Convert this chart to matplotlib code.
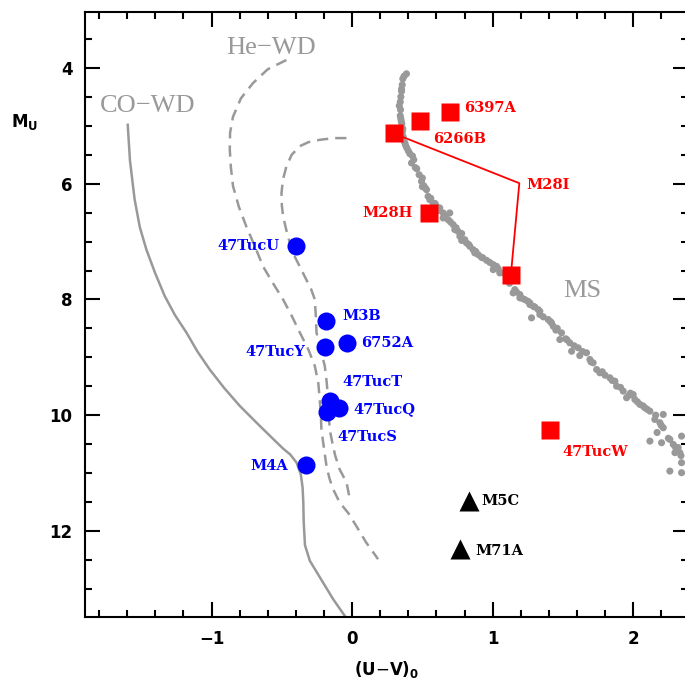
import numpy as np
import matplotlib.pyplot as plt
from matplotlib.ticker import MultipleLocator

# cooling tracks
co_x = [-1.596, -1.58, -1.547, -1.51, -1.463, -1.40, -1.333, -1.26, -1.179, -1.10,
        -1.013, -0.91, -0.799, -0.68, -0.562, -0.49, -0.440, -0.395, -0.365, -0.352,
        -0.347, -0.344, -0.335, -0.300, -0.21, -0.135, -0.052]
co_y = [4.98, 5.60, 6.27, 6.75, 7.14, 7.55, 7.94, 8.27, 8.57, 8.90,
        9.21, 9.53, 9.84, 10.13, 10.41, 10.58, 10.68, 10.82, 11.02, 11.25,
        11.50, 11.85, 12.25, 12.52, 12.88, 13.18, 13.47]

he1_x = [-0.467, -0.60, -0.705, -0.79, -0.847, -0.868, -0.870, -0.862, -0.847, -0.805,
         -0.752, -0.69, -0.633, -0.56, -0.491, -0.43, -0.372, -0.31, -0.265, -0.240,
         -0.230, -0.222, -0.218, -0.20, -0.182, -0.16, -0.135, -0.088, -0.028, 0.031,
         0.100, 0.185]
he1_y = [3.86, 4.02, 4.26, 4.52, 4.84, 5.12, 5.41, 5.72, 6.04, 6.40,
         6.74, 7.09, 7.43, 7.73, 8.00, 8.28, 8.57, 8.87, 9.15, 9.45,
         9.73, 10.00, 10.25, 10.57, 10.88, 11.10, 11.28, 11.51, 11.69, 11.92,
         12.20, 12.49]

he2_x = [-0.04, -0.13, -0.23, -0.31, -0.372, -0.43, -0.467, -0.492, -0.502, -0.500,
         -0.491, -0.46, -0.420, -0.37, -0.325, -0.29, -0.265, -0.258, -0.253, -0.225,
         -0.194, -0.180, -0.171, -0.165, -0.159, -0.14, -0.12, -0.088, -0.04, -0.02]
he2_y = [5.21, 5.21, 5.24, 5.28, 5.35, 5.50, 5.70, 5.93, 6.16, 6.36,
         6.56, 6.88, 7.20, 7.44, 7.66, 7.83, 8.00, 8.28, 8.57, 8.86,
         9.15, 9.44, 9.73, 10.00, 10.25, 10.48, 10.70, 10.94, 11.16, 11.40]

# main sequence stars
ms_x = [0.387, 0.361, 0.357, 0.347, 0.343, 0.336, 0.343, 0.347, 0.354, 0.361,
        0.364, 0.375, 0.389, 0.411, 0.439, 0.423, 0.477, 0.494, 0.510, 0.530,
        0.541, 0.553, 0.577, 0.601, 0.624, 0.648, 0.695, 0.648, 0.683, 0.719,
        0.731, 0.754, 0.767, 0.802, 0.814, 0.838, 0.861, 0.873, 0.897, 0.957,
        1.004, 1.004, 1.028, 1.051, 1.075, 1.158, 1.146, 1.194, 1.194, 1.229,
        1.265, 1.265, 1.324, 1.336, 1.336, 1.277, 1.395, 1.419, 1.431, 1.490,
        1.478, 1.549, 1.562, 1.609, 1.668, 1.692, 1.715, 1.740, 1.763, 1.834,
        1.870, 1.882, 1.929, 1.953, 2.000, 2.012, 2.048, 2.083, 2.119, 2.154,
        2.214, 2.190, 2.214, 2.119, 2.202, 2.261, 2.285, 2.344, 2.332, 2.297,
        2.344, 2.261, 2.344, 0.352, 0.45, 0.60, 0.92, 1.10, 1.30, 1.45,
        1.62, 1.80, 1.98, 2.17, 2.32, 0.50, 0.78, 1.21, 1.52, 2.07,
        0.37, 0.352, 0.345, 0.350, 0.358, 0.38, 0.40, 0.43, 0.46, 0.50,
        0.52, 0.56, 0.59, 0.62, 0.66, 0.70, 0.74, 0.78, 0.83, 0.88,
        0.93, 0.98, 1.04, 1.12, 1.17, 1.25, 1.29, 1.36, 1.41, 1.46,
        1.53, 1.58, 1.64, 1.70, 1.78, 1.85, 1.91, 1.97, 2.03, 2.10,
        2.16, 2.20, 2.25, 2.30, 2.34]
ms_y = [4.098, 4.185, 4.288, 4.496, 4.583, 4.651, 4.824, 4.876, 4.962, 5.048,
        5.187, 5.290, 5.377, 5.480, 5.584, 5.641, 5.843, 5.959, 6.033, 6.102,
        6.218, 6.275, 6.332, 6.390, 6.418, 6.504, 6.504, 6.591, 6.620, 6.706,
        6.793, 6.822, 6.908, 6.966, 7.022, 7.081, 7.138, 7.195, 7.225, 7.323,
        7.397, 7.484, 7.427, 7.541, 7.541, 7.829, 7.886, 7.915, 7.972, 8.002,
        8.059, 8.088, 8.175, 8.204, 8.261, 8.318, 8.347, 8.404, 8.463, 8.577,
        8.693, 8.750, 8.895, 8.836, 8.922, 9.038, 9.095, 9.211, 9.268, 9.354,
        9.413, 9.499, 9.585, 9.699, 9.643, 9.729, 9.815, 9.872, 9.931, 10.074,
        9.988, 10.131, 10.218, 10.449, 10.477, 10.420, 10.506, 10.363, 10.649, 10.649,
        10.822, 10.967, 10.995, 4.40, 5.72, 6.46, 7.27, 7.64, 8.13, 8.53,
        8.97, 9.31, 9.62, 10.30, 10.56, 6.05, 6.98, 7.98, 8.68, 9.84,
        4.14, 4.36, 4.72, 4.92, 5.10, 5.33, 5.43, 5.52, 5.74, 5.90,
        6.07, 6.25, 6.34, 6.46, 6.56, 6.66, 6.76, 6.86, 7.05, 7.17,
        7.28, 7.36, 7.47, 7.72, 7.87, 8.03, 8.12, 8.30, 8.38, 8.50,
        8.70, 8.80, 8.90, 9.08, 9.25, 9.40, 9.52, 9.66, 9.77, 9.90,
        10.00, 10.18, 10.40, 10.55, 10.70]

# companions: He-WD (blue), MS-like (red), others (black)
blue_names = ['47TucU', 'M3B', '47TucY', '6752A', '47TucT', '47TucQ', '47TucS', 'M4A']
blue_x = [-0.40, -0.187, -0.194, -0.036, -0.16, -0.09, -0.18, -0.325]
blue_y = [7.07, 8.38, 8.83, 8.75, 9.76, 9.87, 9.95, 10.86]

red_names = ['6397A', '6266B', '', 'M28H', '', '47TucW']
red_x = [0.70, 0.48, 0.297, 0.548, 1.13, 1.41]
red_y = [4.76, 4.91, 5.13, 6.50, 7.57, 10.26]

m28i_x = [0.297, 1.19, 1.13]
m28i_y = [5.13, 5.99, 7.57]

black_names = ['M5C', 'M71A']
black_x = [0.833, 0.767]
black_y = [11.48, 12.32]

# label offsets (points)
blue_off = [(-12, 0), (12, 4), (-14, -3), (10, 0), (9, 14), (10, -1), (8, -18), (-13, -1)]
red_off = [(10, 3), (10, -13), None, (-12, 0), None, (9, -16)]
black_off = [(9, 0), (11, -1)]

gray = '#999999'
fig = plt.figure(figsize=(6.85, 6.84), dpi=100)
ax = fig.add_axes([85 / 685, 1 - 617 / 684, 603 / 685, 605 / 684])

ax.plot(co_x, co_y, color=gray, lw=1.8)
ax.plot(he1_x, he1_y, color=gray, lw=1.8, dashes=(4.5, 2.8))
ax.plot(he2_x, he2_y, color=gray, lw=1.8, dashes=(4.5, 2.8))
ax.scatter(ms_x, ms_y, s=26, color=gray, edgecolors='none', zorder=2)

ax.plot(m28i_x, m28i_y, color='red', lw=1.3, zorder=3)
ax.plot(blue_x, blue_y, 'o', color='blue', ms=13, mec='none', zorder=4)
ax.plot(red_x, red_y, 's', color='red', ms=13, mec='none', zorder=4)
ax.plot(black_x, black_y, '^', color='black', ms=14, mec='none', zorder=4)

lab = dict(fontfamily='DejaVu Serif', fontweight='bold', fontsize=10.5,
           va='center', textcoords='offset points')
for n, x, y, o in zip(blue_names, blue_x, blue_y, blue_off):
    ax.annotate(n, (x, y), xytext=o, color='blue', ha='right' if o[0] < 0 else 'left', **lab)
for n, x, y, o in zip(red_names, red_x, red_y, red_off):
    if n:
        ax.annotate(n, (x, y), xytext=o, color='red', ha='right' if o[0] < 0 else 'left', **lab)
ax.annotate('M28I', (m28i_x[1], m28i_y[1]), xytext=(5, -1), color='red', ha='left', **lab)
for n, x, y, o in zip(black_names, black_x, black_y, black_off):
    ax.annotate(n, (x, y), xytext=o, color='black', ha='left', **lab)

ax.text(-1.796, 4.65, 'CO\u2212WD', color=gray, fontfamily='Liberation Serif', fontsize=19, va='center')
ax.text(-0.892, 3.65, 'He\u2212WD', color=gray, fontfamily='Liberation Serif', fontsize=19, va='center')
ax.text(1.50, 7.86, 'MS', color=gray, fontfamily='Liberation Serif', fontsize=19, va='center')

ax.set_xlim(-1.90, 2.39)
ax.set_ylim(13.49, 3.03)
ax.xaxis.set_major_locator(MultipleLocator(1))
ax.xaxis.set_minor_locator(MultipleLocator(0.2))
ax.yaxis.set_major_locator(MultipleLocator(2))
ax.yaxis.set_minor_locator(MultipleLocator(0.5))
ax.tick_params(which='both', direction='in', top=True, right=True, width=1.5)
ax.tick_params(which='major', length=11, pad=9, labelsize=12)
ax.tick_params(which='minor', length=5)
for t in ax.get_xticklabels() + ax.get_yticklabels():
    t.set_fontweight('bold')
for s in ax.spines.values():
    s.set_linewidth(1.5)

ax.set_xlabel(r'(U$-$V)$_\mathbf{0}$', fontsize=12, fontweight='bold', labelpad=8)
fig.text(25 / 685, 1 - 122 / 684, r'M$_\mathbf{U}$', fontsize=12, fontweight='bold',
         ha='center', va='center')

fig.savefig('out.png', dpi=100)
